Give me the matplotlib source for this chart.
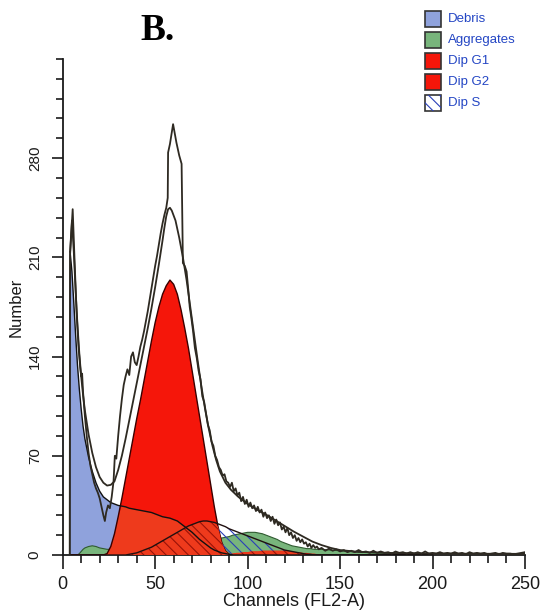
import numpy as np
import matplotlib
matplotlib.use("Agg")
import matplotlib.pyplot as plt
from matplotlib.patches import Rectangle
from matplotlib.ticker import MultipleLocator, FixedLocator
from matplotlib import font_manager

# ---------------- data ----------------
channels = [3.8, 4, 5, 6, 7, 8, 9, 10, 11,
            12, 14, 16, 18, 20, 22, 24, 26, 28, 30, 32, 34, 36, 38, 40, 42, 44, 46, 48, 50,
            52, 54, 56, 58, 60, 62, 64, 66, 68, 70, 72, 74, 76, 78, 80, 82, 84, 86, 88, 90,
            92, 94, 96, 98, 100, 102, 104, 106, 108, 110, 112, 114, 116, 118, 120, 122, 124,
            126, 128, 130, 132, 134, 136, 138, 140,
            145, 150, 155, 160, 170, 180, 190, 200]

debris = [0, 214, 200, 178, 155, 134, 117, 103, 91,
          82, 69, 59, 51, 45, 41, 39, 37, 36, 35, 34.5, 34, 33, 32.5, 32, 31.5, 31, 30.5, 30, 29,
          28, 27, 26.5, 26, 25, 24, 22, 20, 18, 16, 13.5, 11, 9, 7, 5, 3.5, 2.5, 1.5, 1, 0.5,
          0, 0, 0, 0, 0, 0, 0, 0, 0, 0, 0, 0, 0, 0, 0, 0, 0,
          0, 0, 0, 0, 0, 0, 0, 0,
          0, 0, 0, 0, 0, 0, 0, 0]

aggregates = [0, 0, 0, 0, 0, 0, 1, 2.5, 4,
              5, 6, 6.5, 6, 5, 4.5, 4, 4, 3.5, 3.5, 3.5, 3.5, 3.5, 3.5, 3.5, 3.5, 3.5, 4, 4, 4,
              4.5, 4.5, 5, 5, 5.5, 6, 6.5, 7, 7.5, 8, 8.5, 9, 9.5, 10, 10.5, 11, 11.5, 12, 12.5, 13,
              14, 14.5, 15, 15.5, 16, 16, 16, 15.5, 15, 14, 13, 12, 11, 9.5, 8.5, 7.5, 6.5,
              6, 5.5, 5, 4.5, 4.5, 4, 4, 4,
              3.5, 3, 2.5, 2, 1.5, 1, 0.5, 0]

dip_g1 = [0, 0, 0, 0, 0, 0, 0, 0, 0,
          0, 0, 0, 0, 0, 0, 1, 6, 15, 27, 40, 54, 68, 82, 96, 109, 123, 137, 151, 164,
          175, 184, 190, 194, 191, 184, 173, 160, 146, 130, 114, 98, 82, 66, 50, 34, 20, 9, 3, 0.5,
          0, 0, 0, 0, 0, 0, 0, 0, 0, 0, 0, 0, 0, 0, 0, 0, 0,
          0, 0, 0, 0, 0, 0, 0, 0,
          0, 0, 0, 0, 0, 0, 0, 0]

dip_g2 = [0, 0, 0, 0, 0, 0, 0, 0, 0,
          0, 0, 0, 0, 0, 0, 0, 0, 0, 0, 0, 0, 0, 0, 0, 0, 0, 0, 0, 0,
          0, 0, 0, 0, 0, 0, 0, 0, 0, 0, 0, 0, 0, 0, 0, 0, 0, 0, 0, 0.5,
          1, 1.5, 1.5, 2, 2, 2.5, 2.5, 2.5, 3, 3, 3, 3, 3, 3, 3, 2.5, 2.5,
          2, 2, 1.5, 1.5, 1, 1, 0.5, 0.5,
          0, 0, 0, 0, 0, 0, 0, 0]

dip_s = [0, 0, 0, 0, 0, 0, 0, 0, 0,
         0, 0, 0, 0, 0, 0, 0, 0, 0, 0, 0, 0, 0.5, 1, 1.5, 2.5, 3.5, 4.5, 5.5, 7,
         8.5, 10, 11.5, 13, 14.5, 16, 17.5, 19, 20.5, 21.5, 22.5, 23.5, 24, 24, 23.5, 23, 22, 21, 20, 18.5,
         17.5, 16.5, 15.5, 14.5, 13.5, 12.5, 11.5, 10.5, 9.5, 8.5, 7.5, 6.5, 5.5, 4.5, 3.5, 3, 2.5,
         2, 1.5, 1, 0.5, 0.5, 0, 0, 0,
         0, 0, 0, 0, 0, 0, 0, 0]

data_ch = [3.8, 4, 5.4, 6.5, 7.5, 8.5, 9.5, 10, 10.5, 11, 12, 13, 14, 15, 16, 17, 18, 19, 20,
           21, 22, 22.8, 23.5, 24.5, 25.5, 26.5, 27.5, 28.2, 29, 30, 31, 32, 33, 34, 35, 36, 37,
           38, 39, 40, 41, 42, 43, 44, 45, 46, 47, 48, 49, 50, 51, 52, 53, 54, 55, 56, 56.8, 57,
           58, 59.7, 61.5, 63, 64.3, 65, 66, 67, 68, 68.7, 69.5, 70.5, 71.5, 72.5, 73.5, 74.5,
           75.5, 76.5, 77.5, 78.5, 79.5, 80.5, 81.5, 82.5, 83.5, 84.5, 85.5, 86.5, 87.5, 88.5,
           89.5, 90.5, 91.5, 92.5, 93.5, 94.5, 95.5, 96.5, 97.5, 98.5, 99.5, 100.5, 101.5, 102.5,
           103.5, 104.5, 105.5, 106.5, 107.5, 108.5, 109.5, 110.5, 111.5, 112.5, 113.5, 114.5,
           115.5, 116.5, 117.5, 118.5, 119.5, 120.5, 121.5, 122.5, 123.5, 124.5, 125.5, 126.5,
           127.5, 128.5, 129.5, 130.5, 131.5, 132.5, 133.5, 134.5, 135.5, 136.5, 137.5, 138.5,
           140, 142, 144, 146, 148, 150, 152, 154, 156, 158, 160, 162, 164, 166, 168, 170, 172,
           174, 176, 178, 180, 182, 184, 186, 188, 190, 192, 194, 196, 198, 200, 202, 204, 206,
           208, 210, 212, 214, 216, 218, 220, 222, 224, 226, 228, 230, 232, 234, 236, 238, 240,
           242, 244, 246, 248, 250]
data_counts = [0, 212, 244, 205, 172, 148, 132, 126, 128, 115, 98, 84, 72, 63, 57, 51, 47, 44, 40,
               34, 28, 24, 30, 35, 33, 41, 52, 70, 68, 84, 98, 110, 120, 126, 131, 127, 140,
               143, 136, 134, 140, 147, 152, 158, 165, 172, 180, 188, 196, 204, 211, 219, 227, 234, 240, 245, 252, 284,
               290, 304, 291, 282, 276, 206, 204, 200, 186, 175, 168, 158, 146, 139, 130, 124,
               112, 108, 100, 92, 88, 80, 77, 70, 67, 62, 60, 56, 57, 52,
               51, 48, 51, 45, 47, 42, 44, 38, 41, 36, 39, 34, 37, 33,
               35, 31, 34, 30, 32, 27, 30, 26, 28, 24, 27, 22,
               25, 21, 23, 18, 20, 16, 19, 14, 16, 12, 14, 10,
               12, 9, 11, 8, 9, 6, 8, 5, 7, 5, 6, 4,
               5, 3, 4.5, 3, 4, 2.5, 3.5, 2, 3, 2, 3.5, 2, 2.5, 1.5, 3, 1.5, 2.5,
               1.5, 2, 1, 2.5, 1.5, 2, 1, 2, 1, 2, 1, 2.5, 1, 1.5, 1, 2, 1,
               1.5, 1, 2, 1, 1.5, 0.5, 2, 1, 1.5, 1, 1.5, 0.5, 1, 1.5, 0.5, 1.5, 1,
               1, 0.5, 1, 1.5, 2]

model_ch = [4, 5, 6, 7, 8, 9, 10, 11, 12, 14, 16, 18, 20, 22, 24, 26, 28, 30, 32, 34, 36, 38,
            40, 42, 44, 46, 48, 50, 52, 54, 55, 56, 57, 58, 59, 61, 63, 65, 67, 69, 71, 73, 75,
            77, 79, 81, 83, 85, 88, 91, 95, 100, 105, 110, 115, 120, 125, 130, 135, 140, 145,
            150, 160, 175, 200, 250]
model_counts = [214, 236, 214, 186, 162, 142, 126, 113, 102, 85, 72, 62, 55, 51, 49, 49.5, 52,
                60, 70, 82, 95, 108, 121, 134, 147, 160, 174, 189, 205, 222, 231, 239, 244, 245,
                243, 236, 224, 210, 194, 175, 156, 137, 119, 103, 89, 77, 67, 59, 51, 46, 41, 36,
                32, 28.5, 24.5, 20.5, 16.5, 13, 9.5, 7, 5, 3.5, 2.2, 1.5, 1, 0.8]

x_ticks = [0, 50, 100, 150, 200, 250]
y_ticks = [0, 70, 140, 210, 280]
legend_labels = ["Debris", "Aggregates", "Dip G1", "Dip G2", "Dip S"]

# ---------------- styling ----------------
C_DEBRIS = "#8fa2dc"
C_AGG = "#78b57c"
C_RED = "#f5160a"
C_OVER = "#ee3a1c"
C_HATCH_BLUE = "#2a3fb8"
C_LINE = "#2e2a22"
C_LEG_TEXT = "#2446c4"

names = {f.name for f in font_manager.fontManager.ttflist}
NARROW = ["Liberation Sans Narrow", "Liberation Sans"] if "Liberation Sans Narrow" in names else ["Liberation Sans"]
plt.rcParams["font.family"] = ["Liberation Sans", "DejaVu Sans"]
plt.rcParams["hatch.linewidth"] = 0.8

ch = np.array(channels)
deb = np.array(debris)
agg = np.array(aggregates)
g1 = np.array(dip_g1)
g2 = np.array(dip_g2)
s = np.array(dip_s)

fig = plt.figure(figsize=(5.4, 6.13), dpi=100)
ax = fig.add_axes([0.1161, 0.0946, 0.8561, 0.8092])

# Debris
ax.fill_between(ch, 0, deb, facecolor=C_DEBRIS, edgecolor="none", zorder=1)
# Aggregates
ax.fill_between(ch, 0, agg, facecolor=C_AGG, edgecolor="none", zorder=2)
ax.plot(ch, agg, color="#2f5a30", lw=0.8, zorder=2.1)
# Dip G1 and G2
ax.fill_between(ch, 0, g1, facecolor=C_RED, edgecolor="none", zorder=3)
ax.fill_between(ch, 0, g2, facecolor=C_RED, edgecolor="none", zorder=3)
red_total = np.maximum(g1, g2)
# overlap of debris with G1
ax.fill_between(ch, 0, np.minimum(deb, red_total), facecolor=C_OVER, edgecolor="none", zorder=3.2)
ax.plot(ch, g1, color="#3a0000", lw=1.0, zorder=3.5)
# Dip S (hatched)
ax.fill_between(ch, 0, s, facecolor="none", edgecolor=C_HATCH_BLUE, hatch="\\\\\\", linewidth=0, zorder=4)
ax.fill_between(ch, 0, np.minimum(s, red_total), facecolor=C_OVER, edgecolor="#9a1208",
                hatch="\\\\\\", linewidth=0, zorder=4.1)
ax.plot(ch, s, color="#201010", lw=1.0, zorder=4.5)
# debris outline
ax.plot(ch, deb, color="#111111", lw=1.0, zorder=4.6)

# data histogram and model
ax.plot(model_ch, model_counts, color=C_LINE, lw=1.3, zorder=6)
ax.plot(data_ch, data_counts, color=C_LINE, lw=1.3, zorder=6)

# axes
ax.set_xlim(0, 250)
ax.set_ylim(0, 350)
ax.spines["top"].set_visible(False)
ax.spines["right"].set_visible(False)
for sp in ("left", "bottom"):
    ax.spines[sp].set_linewidth(1.3)
    ax.spines[sp].set_color("#1a1a1a")
ax.xaxis.set_major_locator(FixedLocator(x_ticks))
ax.xaxis.set_minor_locator(MultipleLocator(10))
ax.yaxis.set_major_locator(FixedLocator(y_ticks))
ax.yaxis.set_minor_locator(MultipleLocator(14))
ax.tick_params(axis="x", which="major", length=10, width=1.2, pad=5, labelsize=13, colors="#1a1a1a")
ax.tick_params(axis="x", which="minor", length=6, width=1.2, colors="#1a1a1a")
ax.tick_params(axis="y", which="major", length=8, width=1.2, pad=7, labelsize=11, colors="#1a1a1a")
ax.tick_params(axis="y", which="minor", length=5, width=1.2, colors="#1a1a1a")
ax.set_xticklabels([str(v) for v in x_ticks], family=NARROW)
ax.set_yticklabels([str(v) for v in y_ticks], rotation=90, va="center")
ax.set_xlabel("Channels (FL2-A)", family=NARROW, fontsize=13, labelpad=0, color="#1a1a1a")
ax.set_ylabel("Number", fontsize=12, labelpad=3, color="#1a1a1a")

# title
fig.text(158 / 540, 1 - 40 / 613, "B.", family=["Liberation Serif", "DejaVu Serif"],
         fontweight="bold", fontsize=27, ha="center", va="baseline")

# legend
leg_faces = [C_DEBRIS, C_AGG, C_RED, C_RED, "white"]
leg_hatch = [None, None, None, None, "\\\\\\"]
for i, lab in enumerate(legend_labels):
    yc = 19 + 21 * i
    r = Rectangle((425 / 540, 1 - (yc + 7.5) / 613), 16 / 540, 15 / 613, transform=fig.transFigure,
                  facecolor=leg_faces[i], edgecolor="#333333", lw=1.2)
    fig.add_artist(r)
    if leg_hatch[i]:
        rh = Rectangle((425 / 540, 1 - (yc + 7.5) / 613), 16 / 540, 15 / 613, transform=fig.transFigure,
                       facecolor="none", edgecolor=C_HATCH_BLUE, hatch=leg_hatch[i], lw=0)
        fig.add_artist(rh)
    fig.text(448 / 540, 1 - yc / 613, lab, family=NARROW, fontsize=9.5, color=C_LEG_TEXT,
             ha="left", va="center")

fig.savefig("out.png", dpi=100, facecolor="white")
